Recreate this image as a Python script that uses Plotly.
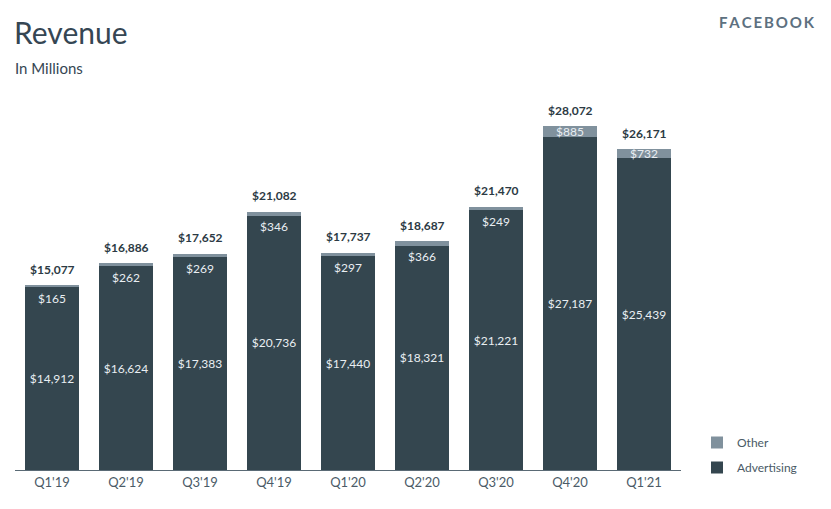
import plotly.graph_objects as go

quarters = ["Q1'19", "Q2'19", "Q3'19", "Q4'19", "Q1'20", "Q2'20", "Q3'20", "Q4'20", "Q1'21"]
advertising = [14912, 16624, 17383, 20736, 17440, 18321, 21221, 27187, 25439]
other = [165, 262, 269, 346, 297, 366, 249, 885, 732]
totals = [15077, 16886, 17652, 21082, 17737, 18687, 21470, 28072, 26171]

ADV_COLOR = "#34464f"
OTH_COLOR = "#80919d"
FONT = "Lato"

def money(v):
    return "${:,}".format(v)

fig = go.Figure()
fig.add_trace(go.Bar(
    x=quarters, y=advertising, name="Advertising", legendgroup="a", legendrank=2,
    marker=dict(color=ADV_COLOR, line=dict(width=0)),
    text=[money(v) for v in advertising], textposition="inside",
    insidetextanchor="middle", textangle=0,
    textfont=dict(color="#e9eef2", size=12, family=FONT),
    hoverinfo="skip",
))
fig.add_trace(go.Bar(
    x=quarters, y=other, name="Other", legendgroup="o", legendrank=1,
    marker=dict(color=OTH_COLOR, line=dict(width=0)),
    hoverinfo="skip",
))

annotations = []
for q, a, o, t in zip(quarters, advertising, other, totals):
    annotations.append(dict(
        x=q, y=t, xref="x", yref="y", text="<b>" + money(t) + "</b>",
        showarrow=False, yanchor="middle", yshift=16,
        font=dict(color="#2c3a44", size=12, family=FONT),
    ))
    if o >= 600:
        annotations.append(dict(
            x=q, y=a + o / 2, xref="x", yref="y", text=money(o),
            showarrow=False, yanchor="middle",
            font=dict(color="#e9eef2", size=12, family=FONT),
        ))
    else:
        annotations.append(dict(
            x=q, y=a, xref="x", yref="y", text=money(o),
            showarrow=False, yanchor="middle", yshift=-11,
            font=dict(color="#e9eef2", size=12, family=FONT),
        ))

annotations += [
    dict(x=12, y=32, xref="paper", yref="paper", text="Revenue", showarrow=False,
         xanchor="left", yanchor="middle", font=dict(size=30, color="#354653", family=FONT)),
    dict(x=13, y=68, xref="paper", yref="paper", text="In Millions", showarrow=False,
         xanchor="left", yanchor="middle", font=dict(size=15, color="#354653", family=FONT)),
    dict(x=817, y=22, xref="paper", yref="paper", text="<b>F\u2009A\u2009C\u2009E\u2009B\u2009O\u2009O\u2009K</b>",
         showarrow=False, xanchor="right", yanchor="middle",
         font=dict(size=15, color="#5d7080", family=FONT)),
]

W, H = 831, 509
ML, MR, MT, MB = 15, 150, 100, 39
pw, ph = W - ML - MR, H - MT - MB
for an in annotations:
    if an["xref"] == "paper":
        an["x"] = (an["x"] - ML) / pw
        an["y"] = 1 - (an["y"] - MT) / ph

ymax = 30200

fig.update_layout(
    width=W, height=H,
    margin=dict(l=ML, r=MR, t=MT, b=MB),
    barmode="stack", bargap=0.28,
    plot_bgcolor="white", paper_bgcolor="white",
    font=dict(family=FONT, color="#4a5a66"),
    xaxis=dict(range=[-0.5, 8.5], showline=True, linecolor="#5a6a75", linewidth=1,
               ticks="", showgrid=False, tickfont=dict(size=13, color="#4b5b67"), fixedrange=True),
    yaxis=dict(range=[0, ymax], visible=False, showgrid=False, fixedrange=True),
    legend=dict(x=(697 - ML) / pw, xanchor="left", y=1 - (428 - MT) / ph,
                yanchor="top", traceorder="grouped", tracegroupgap=6,
                font=dict(size=12, color="#4a5a66", family=FONT), bgcolor="rgba(0,0,0,0)"),
    annotations=annotations,
    showlegend=True,
)

fig.write_html("out.html", config={"displayModeBar": False},
               post_script="document.body.style.margin='0';document.body.style.overflow='hidden';")
